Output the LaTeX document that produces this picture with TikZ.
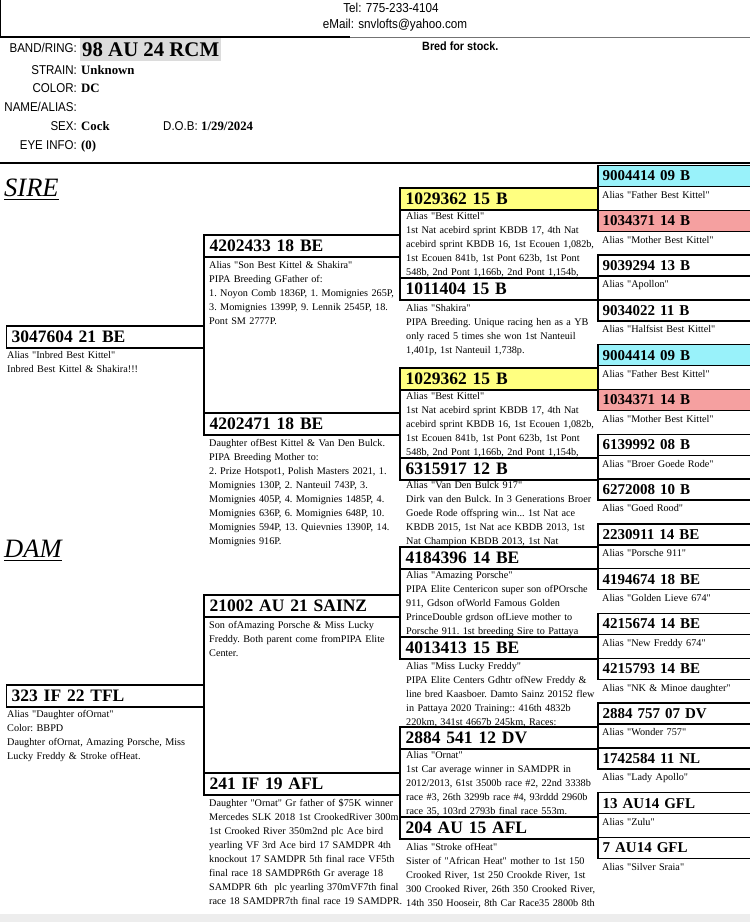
\documentclass[tikz,border=0pt]{standalone}
\usepackage{fontspec}
\setmainfont{Liberation Serif}[Ligatures=TeXOff]
\newfontfamily\hsans[FakeStretch=0.9]{Liberation Sans}
\usetikzlibrary{calc}
\definecolor{cyanbox}{RGB}{153,242,250}
\definecolor{pinkbox}{RGB}{245,160,160}
\definecolor{yellowbox}{RGB}{255,255,128}
\definecolor{bandgray}{RGB}{220,220,220}
\newcommand\hfont{\fontsize{17.5}{20}\selectfont\bfseries}
\newcommand\gfont{\fontsize{15}{18}\selectfont\bfseries}
\newcommand\bfont{\fontsize{10.2}{14}\selectfont\frenchspacing}
\newcommand\fs{\rule{0pt}{10pt}}
\pgfdeclarelayer{bg}
\pgfsetlayers{bg,main}
\begin{document}
\begin{tikzpicture}[x=1pt,y=-1pt,
  hd/.style={draw=black, line width=1.3pt, fill=white, anchor=west, inner xsep=5pt, inner ysep=0pt, minimum height=22pt, text height=11.6pt, text depth=0pt, align=left, font=\hfont},
  hdA/.style={hd, text width=188pt},
  hdB/.style={hd, text width=186pt},
  hdC/.style={hd, text width=188pt},
  hdD/.style={hd, inner xsep=4pt, text width=144pt, minimum height=21pt, text height=9.9pt, font=\gfont},
  txt/.style={anchor=north west, inner sep=0pt, align=left, text width=250pt, font=\bfont},
  link/.style={line width=1.8pt},
  lbl/.style={anchor=base east, inner sep=0pt, font=\hsans\fontsize{12.8}{15}\selectfont},
  val/.style={anchor=base west, inner sep=0pt, font=\fontsize{12.8}{15}\selectfont\bfseries},
]
\useasboundingbox (0,0) rectangle (750,922);
\fill[black!7] (0,914) rectangle (750,922);

% ---------- header ----------
\node[anchor=base, inner sep=0pt, font=\hsans\fontsize{13}{15}\selectfont] (tel) at (391,12.6) {Tel: 775-233-4104};
\node[anchor=base, inner sep=0pt, font=\hsans\fontsize{13}{15}\selectfont] (mail) at (395,28.6) {eMail: snvlofts@yahoo.com};
\draw[line width=1.3pt] (0.6,0) -- (0.6,37) -- (350,37);
\draw[line width=1pt, black!55] (350,37) -- (750,37);

\node[fill=bandgray, anchor=north west, inner sep=0pt, minimum width=141pt, minimum height=23pt, text height=13.8pt, text depth=0pt, font=\fontsize{20.8}{23}\selectfont\bfseries] (band) at (80,38) {98 AU 24 RCM};
\node[lbl] (l1) at (77,52.6) {BAND/RING:};
\node[lbl] (l2) at (77,74.6) {STRAIN:};
\node[lbl] (l3) at (77,92.6) {COLOR:};
\node[lbl] (l4) at (77,111.6) {NAME/ALIAS:};
\node[lbl] (l5) at (77,130.6) {SEX:};
\node[lbl] (l6) at (77,149.6) {EYE INFO:};
\node[val] (v2) at (81,74.6) {Unknown};
\node[val] (v3) at (81,92.6) {DC};
\node[val] (v5) at (81,130.6) {Cock};
\node[lbl, anchor=base west] (l7) at (163,130.6) {D.O.B:};
\node[val] (v7) at (201,130.6) {1/29/2024};
\node[val] (v6) at (81,149.6) {(0)};
\node[anchor=base west, inner sep=0pt, font=\hsans\fontsize{12}{14}\selectfont\bfseries] (bred) at (422,50.3) {Bred for stock.};
\draw[line width=1.6pt] (0,163) -- (750,163);

% ---------- SIRE / DAM ----------
\node[anchor=base west, inner sep=0pt, font=\fontsize{26.5}{30}\selectfont\itshape] (sire) at (4,196) {SIRE};
\draw[line width=1pt] ([yshift=-3.5pt]sire.base west) -- ([yshift=-3.5pt]sire.base east);
\node[anchor=base west, inner sep=0pt, font=\fontsize{26.5}{30}\selectfont\itshape] (dam) at (4,557) {DAM};
\draw[line width=1pt] ([yshift=-3.5pt]dam.base west) -- ([yshift=-3.5pt]dam.base east);

% ---------- generation 1 ----------
\node[hdA] (g1a) at (6,337) {3047604 21 BE};
\node[hdA] (g1b) at (6,696) {323 IF 22 TFL};

% ---------- generation 2 ----------
\node[hdB] (g2a) at (204,246) {4202433 18 BE};
\node[hdB] (g2b) at (204,424) {4202471 18 BE};
\node[hdB] (g2c) at (204,606) {21002 AU 21 SAINZ};
\node[hdB] (g2d) at (204,784) {241 IF 19 AFL};

% ---------- generation 3 ----------
\node[hdC, fill=yellowbox] (g3a) at (400,199) {1029362 15 B};
\node[hdC] (g3b) at (400,289) {1011404 15 B};
\node[hdC, fill=yellowbox] (g3c) at (400,379) {1029362 15 B};
\node[hdC] (g3d) at (400,469) {6315917 12 B};
\node[hdC] (g3e) at (400,558) {4184396 14 BE};
\node[hdC] (g3f) at (400,648) {4013413 15 BE};
\node[hdC] (g3g) at (400,738) {2884 541 12 DV};
\node[hdC] (g3h) at (400,828) {204 AU 15 AFL};

% ---------- generation 4 ----------
\node[hdD, fill=cyanbox] (g4a) at (598,176) {9004414 09 B};
\node[hdD, fill=pinkbox] (g4b) at (598,221) {1034371 14 B};
\node[hdD] (g4c) at (598,265.6) {9039294 13 B};
\node[hdD] (g4d) at (598,310.4) {9034022 11 B};
\node[hdD, fill=cyanbox] (g4e) at (598,355.2) {9004414 09 B};
\node[hdD, fill=pinkbox] (g4f) at (598,400) {1034371 14 B};
\node[hdD] (g4g) at (598,444.8) {6139992 08 B};
\node[hdD] (g4h) at (598,489.6) {6272008 10 B};
\node[hdD] (g4i) at (598,534.4) {2230911 14 BE};
\node[hdD] (g4j) at (598,579.2) {4194674 18 BE};
\node[hdD] (g4k) at (598,624) {4215674 14 BE};
\node[hdD] (g4l) at (598,668.8) {4215793 14 BE};
\node[hdD] (g4m) at (598,713.6) {2884 757 07 DV};
\node[hdD] (g4n) at (598,758.4) {1742584 11 NL};
\node[hdD] (g4o) at (598,803.2) {13 AU14 GFL};
\node[hdD] (g4p) at (598,848) {7 AU14 GFL};

% ---------- connectors ----------
\draw[link] (g2a.north west) -- (g2b.south west);
\draw[link] (g2c.north west) -- (g2d.south west);
\draw[link] (g3a.north west) -- (g3b.south west);
\draw[link] (g3c.north west) -- (g3d.south west);
\draw[link] (g3e.north west) -- (g3f.south west);
\draw[link] (g3g.north west) -- (g3h.south west);
\draw[link] (g4a.north west) -- (g4b.south west);
\draw[link] (g4c.north west) -- (g4d.south west);
\draw[link] (g4e.north west) -- (g4f.south west);
\draw[link] (g4g.north west) -- (g4h.south west);
\draw[link] (g4i.north west) -- (g4j.south west);
\draw[link] (g4k.north west) -- (g4l.south west);
\draw[link] (g4m.north west) -- (g4n.south west);
\draw[link] (g4o.north west) -- (g4p.south west);

% ---------- texts ----------
\begin{pgfonlayer}{bg}
\node[txt] (t1a) at ($(g1a.south west)+(1,-0.5)$) {\fs Alias "Inbred Best Kittel"\\Inbred Best Kittel \& Shakira!!!};
\node[txt] (t1b) at ($(g1b.south west)+(1,-0.5)$) {\fs Alias "Daughter ofOrnat"\\Color: BBPD\\Daughter ofOrnat, Amazing Porsche, Miss\\Lucky Freddy \& Stroke ofHeat.};

\node[txt] (t2a) at ($(g2a.south west)+(5,1)$) {\fs Alias "Son Best Kittel \& Shakira"\\PIPA Breeding GFather of:\\1. Noyon Comb 1836P, 1. Momignies 265P,\\3. Momignies 1399P, 9. Lennik 2545P, 18.\\Pont SM 2777P.};
\node[txt] (t2b) at ($(g2b.south west)+(5,1)$) {\fs Daughter ofBest Kittel \& Van Den Bulck.\\PIPA Breeding Mother to:\\2. Prize Hotspot1, Polish Masters 2021, 1.\\Momignies 130P, 2. Nanteuil 743P, 3.\\Momignies 405P, 4. Momignies 1485P, 4.\\Momignies 636P, 6. Momignies 648P, 10.\\Momignies 594P, 13. Quievnies 1390P, 14.\\Momignies 916P.};
\node[txt] (t2c) at ($(g2c.south west)+(5,1)$) {\fs Son ofAmazing Porsche \& Miss Lucky\\Freddy. Both parent come fromPIPA Elite\\Center.};
\node[txt] (t2d) at ($(g2d.south west)+(5,1)$) {\fs Daughter "Ornat" Gr father of \$75K winner\\Mercedes SLK 2018 1st CrookedRiver 300m\\1st Crooked River 350m2nd plc Ace bird\\yearling VF 3rd Ace bird 17 SAMDPR 4th\\knockout 17 SAMDPR 5th final race VF5th\\final race 18 SAMDPR6th Gr average 18\\SAMDPR 6th \ plc yearling 370mVF7th final\\race 18 SAMDPR7th final race 19 SAMDPR.};

\node[txt] (t3a) at ($(g3a.south west)+(6,-1.5)$) {\fs Alias "Best Kittel"\\1st Nat acebird sprint KBDB 17, 4th Nat\\acebird sprint KBDB 16, 1st Ecouen 1,082b,\\1st Ecouen 841b, 1st Pont 623b, 1st Pont\\548b, 2nd Pont 1,166b, 2nd Pont 1,154b,};
\node[txt] (t3b) at ($(g3b.south west)+(6,0.5)$) {\fs Alias "Shakira"\\PIPA Breeding. Unique racing hen as a YB\\only raced 5 times she won 1st Nanteuil\\1,401p, 1st Nanteuil 1,738p.};
\node[txt] (t3c) at ($(g3c.south west)+(6,-1.5)$) {\fs Alias "Best Kittel"\\1st Nat acebird sprint KBDB 17, 4th Nat\\acebird sprint KBDB 16, 1st Ecouen 1,082b,\\1st Ecouen 841b, 1st Pont 623b, 1st Pont\\548b, 2nd Pont 1,166b, 2nd Pont 1,154b,};
\node[txt] (t3d) at ($(g3d.south west)+(6,-2.5)$) {\fs Alias "Van Den Bulck 917"\\Dirk van den Bulck. In 3 Generations Broer\\Goede Rode offspring win... 1st Nat ace\\KBDB 2015, 1st Nat ace KBDB 2013, 1st\\Nat Champion KBDB 2013, 1st Nat};
\node[txt] (t3e) at ($(g3e.south west)+(6,-1.5)$) {\fs Alias "Amazing Porsche"\\PIPA Elite Centericon super son ofPOrsche\\911, Gdson ofWorld Famous Golden\\PrinceDouble grdson ofLieve mother to\\Porsche 911. 1st breeding Sire to Pattaya};
\node[txt] (t3f) at ($(g3f.south west)+(6,-0.5)$) {\fs Alias "Miss Lucky Freddy"\\PIPA Elite Centers Gdhtr ofNew Freddy \&\\line bred Kaasboer. Damto Sainz 20152 flew\\in Pattaya 2020 Training:: 416th 4832b\\220km, 341st 4667b 245km, Races:};
\node[txt] (t3g) at ($(g3g.south west)+(6,-1.5)$) {\fs Alias "Ornat"\\1st Car average winner in SAMDPR in\\2012/2013, 61st 3500b race \#2, 22nd 3338b\\race \#3, 26th 3299b race \#4, 93rddd 2960b\\race 35, 103rd 2793b final race 553m.};
\node[txt] (t3h) at ($(g3h.south west)+(6,0.5)$) {\fs Alias "Stroke ofHeat"\\Sister of "African Heat" mother to 1st 150\\Crooked River, 1st 250 Crookde River, 1st\\300 Crooked River, 26th 350 Crooked River,\\14th 350 Hooseir, 8th Car Race35 2800b 8th};

\node[txt] (t4a) at ($(g4a.south west)+(4,1)$) {\fs Alias "Father Best Kittel"};
\node[txt] (t4b) at ($(g4b.south west)+(4,1)$) {\fs Alias "Mother Best Kittel"};
\node[txt] (t4c) at ($(g4c.south west)+(4,1)$) {\fs Alias "Apollon"};
\node[txt] (t4d) at ($(g4d.south west)+(4,1)$) {\fs Alias "Halfsist Best Kittel"};
\node[txt] (t4e) at ($(g4e.south west)+(4,1)$) {\fs Alias "Father Best Kittel"};
\node[txt] (t4f) at ($(g4f.south west)+(4,1)$) {\fs Alias "Mother Best Kittel"};
\node[txt] (t4g) at ($(g4g.south west)+(4,1)$) {\fs Alias "Broer Goede Rode"};
\node[txt] (t4h) at ($(g4h.south west)+(4,1)$) {\fs Alias "Goed Rood"};
\node[txt] (t4i) at ($(g4i.south west)+(4,1)$) {\fs Alias "Porsche 911"};
\node[txt] (t4j) at ($(g4j.south west)+(4,1)$) {\fs Alias "Golden Lieve 674"};
\node[txt] (t4k) at ($(g4k.south west)+(4,1)$) {\fs Alias "New Freddy 674"};
\node[txt] (t4l) at ($(g4l.south west)+(4,1)$) {\fs Alias "NK \& Minoe daughter"};
\node[txt] (t4m) at ($(g4m.south west)+(4,1)$) {\fs Alias "Wonder 757"};
\node[txt] (t4n) at ($(g4n.south west)+(4,1)$) {\fs Alias "Lady Apollo"};
\node[txt] (t4o) at ($(g4o.south west)+(4,1)$) {\fs Alias "Zulu"};
\node[txt] (t4p) at ($(g4p.south west)+(4,1)$) {\fs Alias "Silver Sraia"};
\end{pgfonlayer}
\end{tikzpicture}
\end{document}
